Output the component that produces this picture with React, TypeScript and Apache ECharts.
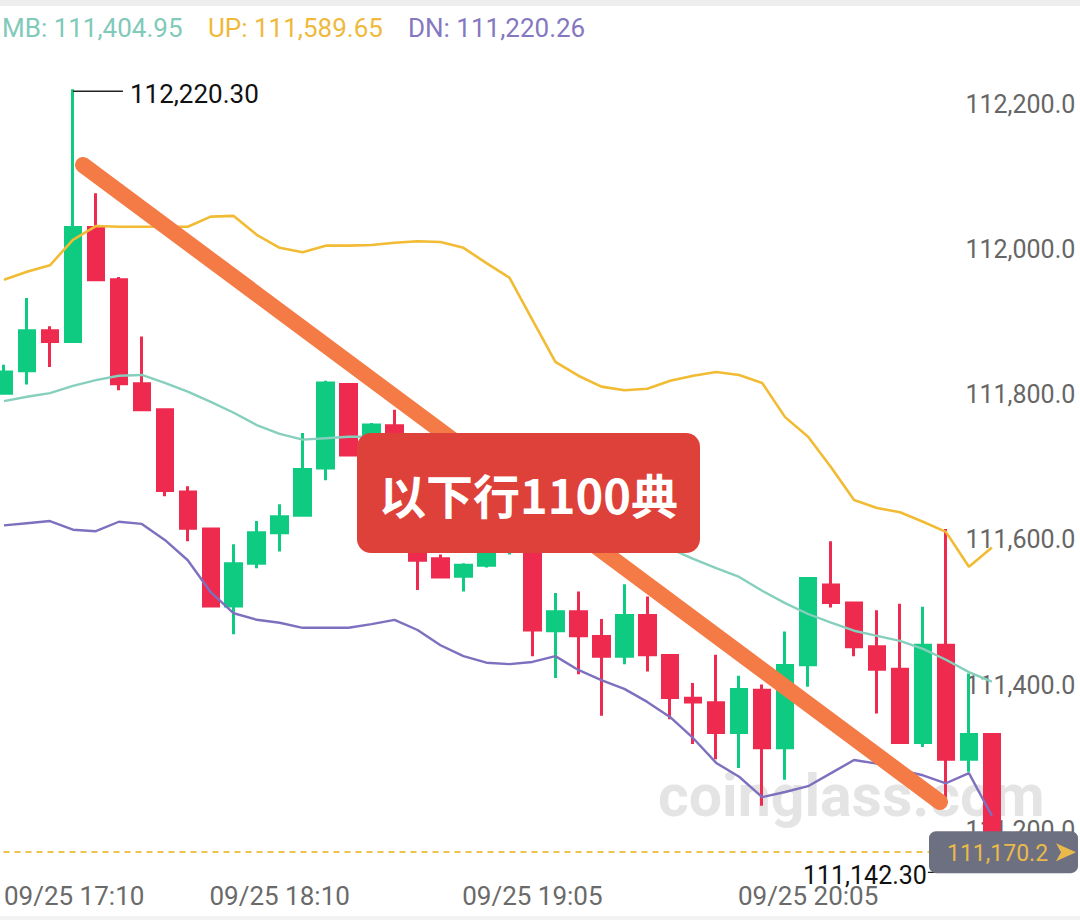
import React, { useEffect, useRef } from "react";
import * as echarts from "echarts";

// ---------- data ----------
const categories: string[] = [
  "09/25 17:10", "09/25 17:15", "09/25 17:20", "09/25 17:25", "09/25 17:30", "09/25 17:35",
  "09/25 17:40", "09/25 17:45", "09/25 17:50", "09/25 17:55", "09/25 18:00", "09/25 18:05",
  "09/25 18:10", "09/25 18:15", "09/25 18:20", "09/25 18:25", "09/25 18:30", "09/25 18:35",
  "09/25 18:40", "09/25 18:45", "09/25 18:50", "09/25 18:55", "09/25 19:00", "09/25 19:05",
  "09/25 19:10", "09/25 19:15", "09/25 19:20", "09/25 19:25", "09/25 19:30", "09/25 19:35",
  "09/25 19:40", "09/25 19:45", "09/25 19:50", "09/25 19:55", "09/25 20:00", "09/25 20:05",
  "09/25 20:10", "09/25 20:15", "09/25 20:20", "09/25 20:25", "09/25 20:30", "09/25 20:35",
  "09/25 20:40", "09/25 20:45", "09/25 20:50", "09/25 20:55", "09/25 21:00",
];

const tickLabels: string[] = ["09/25 17:10", "09/25 18:10", "09/25 19:05", "09/25 20:05"];

// [open, close, low, high]
const ohlc: number[][] = [
  [111802, 111831, 111800, 111841],
  [111833, 111888, 111814, 111933],
  [111888, 111873, 111838, 111894],
  [111873, 112030, 111872, 112220.3],
  [112030, 111958, 111957, 112077],
  [111958, 111815, 111806, 111962],
  [111815, 111779, 111778, 111880],
  [111779, 111668, 111660, 111780],
  [111666, 111616, 111598, 111674],
  [111615, 111509, 111508, 111616],
  [111509, 111567, 111470, 111594],
  [111568, 111610, 111561, 111626],
  [111610, 111632, 111584, 111649],
  [111634, 111697, 111632, 111747],
  [111699, 111816, 111682, 111819],
  [111814, 111717, 111716, 111815],
  [111717, 111758, 111705, 111761],
  [111757, 111700, 111690, 111779],
  [111690, 111572, 111531, 111700],
  [111574, 111549, 111548, 111580],
  [111550, 111565, 111529, 111568],
  [111565, 111590, 111562, 111605],
  [111590, 111640, 111580, 111660],
  [111640, 111476, 111440, 111650],
  [111475, 111501, 111410, 111527],
  [111501, 111468, 111415, 111529],
  [111467, 111440, 111358, 111491],
  [111440, 111496, 111429, 111539],
  [111496, 111442, 111419, 111522],
  [111441, 111383, 111353, 111441],
  [111382, 111377, 111319, 111403],
  [111376, 111335, 111298, 111442],
  [111335, 111394, 111286, 111413],
  [111393, 111314, 111234, 111401],
  [111314, 111427, 111270, 111474],
  [111428, 111547, 111398, 111548],
  [111538, 111514, 111507, 111598],
  [111513, 111453, 111440, 111515],
  [111453, 111422, 111361, 111503],
  [111422, 111321, 111320, 111512],
  [111321, 111455, 111315, 111508],
  [111455, 111298, 111237, 111615],
  [111298, 111332, 111281, 111416],
  [111332, 111170.2, 111142.3, 111333],
];

const upBand: number[] = [
  111958, 111969, 111978, 112013, 112032, 112031, 112031, 112031, 112031, 112045,
  112046, 112020, 112002, 111996, 112005, 112005, 112006, 112009, 112011, 112010,
  112002, 111981, 111961, 111903, 111845, 111826, 111811, 111806, 111808, 111819,
  111826, 111831, 111827, 111816, 111769, 111742, 111700, 111655, 111644, 111638,
  111625, 111611, 111563, 111589.65,
];

const midBand: number[] = [
  111791, 111797, 111802, 111812, 111820, 111826, 111827, 111816, 111804, 111790,
  111775, 111758, 111746, 111738, 111740, 111742, 111742, 111744, 111731, 111718,
  111705, 111692, 111678, 111666, 111652, 111640, 111626, 111614, 111600, 111588,
  111574, 111561, 111549, 111530, 111513, 111498, 111486, 111475, 111468, 111461,
  111450, 111435, 111418, 111404.95,
];

const dnBand: number[] = [
  111620, 111623, 111626, 111614, 111612, 111625, 111622, 111600, 111572, 111528,
  111499, 111490, 111486, 111479, 111479, 111479, 111484, 111490, 111476, 111455,
  111440, 111431, 111429, 111432, 111440, 111421, 111407, 111395, 111377, 111356,
  111327, 111293, 111274, 111246, 111253, 111261, 111279, 111297, 111292, 111283,
  111276, 111265, 111279, 111220.26,
];

const lastPrice = 111170.2;
const calloutText = "以下行1100典";
const watermarkText = "coinglass.com";

// ---------- style ----------
const GREEN = "#0ecb81";
const RED = "#ee2a4f";
const C_MB = "#86cfbd";
const C_UP = "#f1bb33";
const C_DN = "#7e70be";

const fmt = (v: number, d: number) =>
  v.toLocaleString("en-US", { minimumFractionDigits: d, maximumFractionDigits: d });

export default function App() {
  const ref = useRef<HTMLDivElement>(null);

  useEffect(() => {
    if (!ref.current) return;
    const chart = echarts.init(ref.current, null, { renderer: "svg" });

    const gridTop = -41.3;
    const gridBottomPx = 975.8;
    const option: any = {
      animation: false,
      backgroundColor: "#ffffff",
      grid: {
        left: -7.5,
        right: 7.7,
        top: gridTop,
        bottom: 920 - gridBottomPx,
        containLabel: false,
        outerBoundsMode: "none",
      },
      xAxis: {
        type: "category",
        data: categories,
        boundaryGap: true,
        offset: 871 - gridBottomPx,
        axisLine: { show: false },
        axisTick: { show: false },
        splitLine: { show: false },
        axisLabel: {
          interval: (_i: number, v: string) => tickLabels.includes(v),
          alignMinLabel: "left",
          margin: 12,
          fontSize: 26,
          color: "#6a6a6a",
          fontFamily: "Roboto",
        },
      },
      yAxis: {
        type: "value",
        position: "right",
        min: 111000,
        max: 112400,
        interval: 200,
        offset: 3,
        axisLine: { show: false },
        axisTick: { show: false },
        splitLine: { show: false },
        axisLabel: {
          inside: true,
          margin: 0,
          fontSize: 25,
          color: "#666666",
          fontFamily: "Roboto",
          showMinLabel: false,
          showMaxLabel: false,
          formatter: (v: number) => fmt(v, 1),
        },
      },
      series: [
        {
          type: "candlestick",
          data: ohlc,
          barWidth: 16,
          z: 2,
          itemStyle: {
            color: GREEN,
            color0: RED,
            borderColor: GREEN,
            borderColor0: RED,
            borderWidth: 3,
          },
          markLine: {
            silent: true,
            symbol: ["none", "none"],
            label: { show: false },
            lineStyle: { color: "#efc24e", width: 2, type: [6, 5] },
            data: [{ yAxis: lastPrice }],
          },
        },
        {
          type: "line",
          data: upBand,
          symbol: "none",
          z: 3,
          lineStyle: { color: C_UP, width: 2.6 },
        },
        {
          type: "line",
          data: midBand,
          symbol: "none",
          z: 3,
          lineStyle: { color: C_MB, width: 2.4 },
        },
        {
          type: "line",
          data: dnBand,
          symbol: "none",
          z: 3,
          lineStyle: { color: C_DN, width: 2.4 },
        },
      ],
    };
    chart.setOption(option);

    // locate extremes through the chart's own scales
    let hiIdx = 0;
    let loIdx = 0;
    ohlc.forEach((d, i) => {
      if (d[3] > ohlc[hiIdx][3]) hiIdx = i;
      if (d[2] < ohlc[loIdx][2]) loIdx = i;
    });
    const hiPt = chart.convertToPixel({ xAxisIndex: 0, yAxisIndex: 0 }, [hiIdx, ohlc[hiIdx][3]]) as number[];
    const loPt = chart.convertToPixel({ xAxisIndex: 0, yAxisIndex: 0 }, [loIdx, ohlc[loIdx][2]]) as number[];
    const lastY = chart.convertToPixel({ yAxisIndex: 0 }, lastPrice) as number;

    const n = midBand.length - 1;
    const graphic: any[] = [
      // watermark
      {
        type: "text",
        x: 658,
        y: 795,
        z: 0,
        silent: true,
        style: {
          text: watermarkText,
          fontSize: 59,
          fontWeight: "bold",
          fontFamily: "Roboto",
          fill: "#e4e4e4",
          verticalAlign: "middle",
        },
      },
      // top / bottom separators
      { type: "rect", shape: { x: 0, y: 0, width: 1080, height: 6 }, style: { fill: "#eeeeee" }, z: 1 },
      { type: "rect", shape: { x: 0, y: 916, width: 1080, height: 4 }, style: { fill: "#f3f3f3" }, z: 1 },
      // legend values
      {
        type: "text", x: 2, y: 28, z: 80,
        style: { text: "MB: " + fmt(midBand[n], 2), fontSize: 26, fontFamily: "Roboto", fill: "#7fcab8", verticalAlign: "middle" },
      },
      {
        type: "text", x: 208, y: 28, z: 80,
        style: { text: "UP: " + fmt(upBand[n], 2), fontSize: 26, fontFamily: "Roboto", fill: "#efb93c", verticalAlign: "middle" },
      },
      {
        type: "text", x: 408, y: 28, z: 80,
        style: { text: "DN: " + fmt(dnBand[n], 2), fontSize: 26, fontFamily: "Roboto", fill: "#8578c0", verticalAlign: "middle" },
      },
      // high marker
      {
        type: "line", z: 40,
        shape: { x1: hiPt[0], y1: hiPt[1] + 2, x2: hiPt[0] + 50, y2: hiPt[1] + 2 },
        style: { stroke: "#222222", lineWidth: 1.3 },
      },
      {
        type: "text", x: hiPt[0] + 57, y: hiPt[1] + 5, z: 40,
        style: { text: fmt(ohlc[hiIdx][3], 2), fontSize: 26, fontFamily: "Roboto", fill: "#111111", verticalAlign: "middle" },
      },
      // low marker
      {
        type: "line", z: 40,
        shape: { x1: loPt[0] - 64, y1: loPt[1], x2: loPt[0], y2: loPt[1] },
        style: { stroke: "#222222", lineWidth: 1.3 },
      },
      {
        type: "text", x: loPt[0] - 65, y: loPt[1] + 3, z: 40,
        style: { text: fmt(ohlc[loIdx][2], 2), fontSize: 25, fontFamily: "Roboto", fill: "#111111", align: "right", verticalAlign: "middle" },
      },
      // trend line drawn by the author
      {
        type: "line", z: 50,
        shape: { x1: 83, y1: 165, x2: 940, y2: 802 },
        style: { stroke: "#f57b46", lineWidth: 16, lineCap: "round" },
      },
      // callout
      {
        type: "rect", z: 60,
        shape: { x: 357, y: 433, width: 343, height: 120, r: 14 },
        style: { fill: "#de4139" },
      },
      {
        type: "text", x: 528.5, y: 493, z: 61,
        style: {
          text: calloutText,
          fontSize: 47,
          fontWeight: "bold",
          fontFamily: "Noto Sans CJK SC",
          fill: "#ffffff",
          align: "center",
          verticalAlign: "middle",
        },
      },
      // last price box
      {
        type: "rect", z: 70,
        shape: { x: 929, y: lastY - 21, width: 149, height: 42, r: 7 },
        style: { fill: "#6d7080" },
      },
      {
        type: "text", x: 947, y: lastY + 1, z: 71,
        style: { text: fmt(lastPrice, 1), fontSize: 23, fontFamily: "Roboto", fill: "#e9b94b", verticalAlign: "middle" },
      },
      {
        type: "polygon", z: 71,
        shape: { points: [[1056, lastY - 9], [1076, lastY], [1056, lastY + 9], [1061, lastY]] },
        style: { fill: "#e9b94b" },
      },
    ];
    chart.setOption({ graphic });

    return () => chart.dispose();
  }, []);

  return (
    <div
      ref={ref}
      style={{ position: "absolute", left: 0, top: 0, width: 1080, height: 920, background: "#ffffff" }}
    />
  );
}
